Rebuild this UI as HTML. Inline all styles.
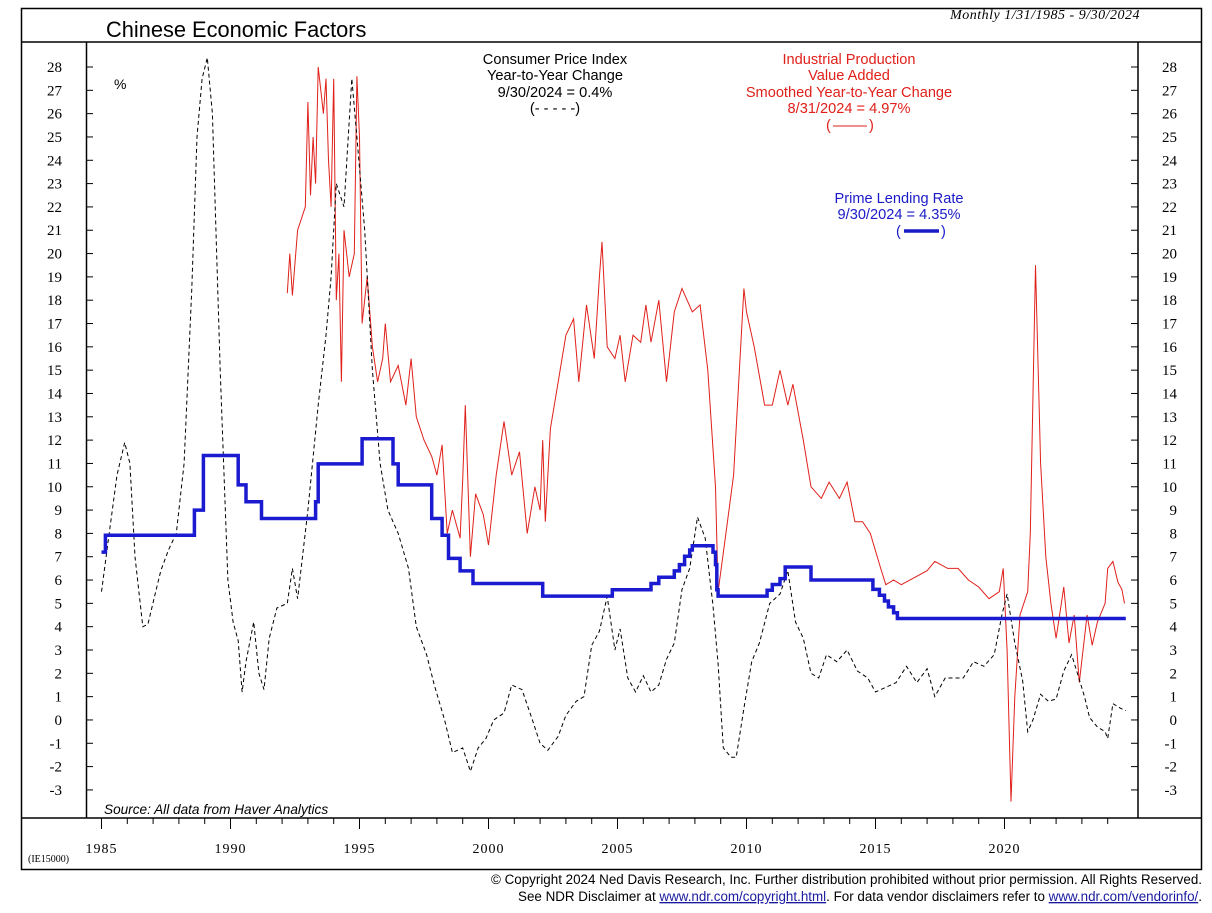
<!DOCTYPE html>
<html><head><meta charset="utf-8"><style>
body{margin:0;background:#fff;width:1212px;height:908px;overflow:hidden}
text{font-family:"Liberation Sans",sans-serif}
.s{font-family:"Liberation Serif",serif}
</style></head><body>
<svg id="c" width="1212" height="908" xmlns="http://www.w3.org/2000/svg">
<rect x="21.5" y="8.5" width="1180" height="861" fill="none" stroke="#000" stroke-width="1.5"/>
<line x1="21" y1="42" x2="1202" y2="42" stroke="#000" stroke-width="1.5"/>
<line x1="21" y1="818" x2="1202" y2="818" stroke="#000" stroke-width="1.5"/>
<line x1="86.5" y1="42" x2="86.5" y2="818" stroke="#000" stroke-width="1.5"/>
<line x1="1138" y1="42" x2="1138" y2="818" stroke="#000" stroke-width="1.5"/>
<text x="106" y="37" font-size="21.8">Chinese Economic Factors</text>
<text x="1140" y="19" font-size="14" font-style="italic" class="s" text-anchor="end" letter-spacing="0.5">Monthly 1/31/1985 - 9/30/2024</text>
<text x="114" y="89" font-size="14">%</text>
<g font-size="14.6" text-anchor="middle">
<text x="555" y="64">Consumer Price Index</text>
<text x="555" y="80">Year-to-Year Change</text>
<text x="555" y="97">9/30/2024 = 0.4%</text>
<text x="555" y="113">(- - - - -)</text>
<g fill="#e0201a">
<text x="849" y="64">Industrial Production</text>
<text x="849" y="80">Value Added</text>
<text x="849" y="97">Smoothed Year-to-Year Change</text>
<text x="849" y="113">8/31/2024 = 4.97%</text>
<text x="826" y="130" text-anchor="start">(</text><line x1="833" y1="126" x2="867" y2="126" stroke="#e0201a"/><text x="869" y="130" text-anchor="start">)</text>
</g>
<g fill="#1a1ac8">
<text x="899" y="203">Prime Lending Rate</text>
<text x="899" y="219">9/30/2024 = 4.35%</text>
<text x="896" y="236" text-anchor="start">(</text><line x1="904" y1="231" x2="939" y2="231" stroke="#1a1ac8" stroke-width="3.5"/><text x="941" y="236" text-anchor="start">)</text>
</g>
</g>
<text x="104" y="814" font-size="13.6" font-style="italic">Source: All data from Haver Analytics</text>
<text x="28" y="862" font-size="10" class="s">(IE15000)</text>
<g font-size="13.4" text-anchor="end">
<text x="1202" y="884">© Copyright 2024 Ned Davis Research, Inc.  Further distribution prohibited without prior permission.  All Rights Reserved.</text>
<text x="1202" y="901">See NDR Disclaimer at <tspan fill="#1a1aa0" text-decoration="underline">www.ndr.com/copyright.html</tspan>. For data vendor disclaimers refer to <tspan fill="#1a1aa0" text-decoration="underline">www.ndr.com/vendorinfo/</tspan>.</text>
</g>
<g id="ax"></g>
<path id="ip" fill="none" stroke="#e0201a" stroke-width="1"/>
<path id="cpi" fill="none" stroke="#000" stroke-width="1" stroke-dasharray="4,3"/>
<path id="pr" fill="none" stroke="#1a1ad0" stroke-width="3.5"/>
</svg>
<script>
const X=y=>101.5+(y-1985)*25.8, Y=v=>67+(28-v)*23.32;
let ax='';
for(let v=28;v>=-3;v--){const y=Y(v);
ax+=`<line x1="86" y1="${y}" x2="93" y2="${y}" stroke="#000"/><line x1="1131" y1="${y}" x2="1138" y2="${y}" stroke="#000"/>`;
ax+=`<text class="s" x="62" y="${y+5}" font-size="15" text-anchor="end">${v}</text><text class="s" x="1177" y="${y+5}" font-size="15" text-anchor="end">${v}</text>`;}
for(let yr=1985;yr<=2024;yr++){const x=X(yr),m=yr%5==0;
ax+=`<line x1="${x}" y1="818" x2="${x}" y2="${m?829:824}" stroke="#000"/>`;
if(m)ax+=`<text class="s" x="${x}" y="853" font-size="14" text-anchor="middle" letter-spacing="1">${yr}</text>`;}
document.getElementById('ax').innerHTML=ax;
function P(a){let s='';for(let i=0;i<a.length;i+=2)s+=(i?'L':'M')+X(a[i]).toFixed(1)+','+Y(a[i+1]).toFixed(1);return s}
function S(a){let s='';for(let i=0;i<a.length;i+=2){const x=X(a[i]).toFixed(1),y=Y(a[i+1]).toFixed(1);if(i)s+='L'+x+','+Y(a[i-1]).toFixed(1);s+=(i?'L':'M')+x+','+y;}return s}
const pr=[1985,7.2,1985.15,7.92,1988.6,9.0,1988.95,11.34,1990.3,10.08,1990.6,9.36,1991.2,8.64,1993.3,9.36,1993.4,10.98,1995.1,12.06,1996.3,10.98,1996.5,10.08,1997.8,8.64,1998.2,7.92,1998.45,6.93,1998.9,6.39,1999.4,5.85,2002.1,5.31,2004.8,5.58,2006.3,5.85,2006.6,6.12,2007.2,6.39,2007.4,6.66,2007.6,7.02,2007.8,7.29,2007.9,7.47,2008.7,7.2,2008.8,6.66,2008.85,5.58,2008.9,5.31,2010.8,5.56,2011.0,5.81,2011.3,6.06,2011.5,6.56,2012.5,6.0,2014.9,5.6,2015.15,5.35,2015.35,5.1,2015.5,4.85,2015.7,4.6,2015.85,4.35,2024.7,4.35];
const cpi=[1985,5.5,1985.3,8,1985.6,10.5,1985.9,11.9,1986.1,11,1986.3,7,1986.6,4,1986.8,4.1,1987.1,5.5,1987.3,6.4,1987.6,7.3,1987.9,8,1988.2,11,1988.5,18.5,1988.7,25,1988.9,27.5,1989.1,28.4,1989.3,26,1989.6,15,1989.9,6,1990.1,4.2,1990.3,3.4,1990.45,1.2,1990.6,2.5,1990.9,4.2,1991.1,2,1991.3,1.3,1991.5,3.5,1991.8,4.8,1992.2,5,1992.4,6.5,1992.6,5.2,1993.0,9,1993.4,13.5,1993.7,16.5,1993.9,19,1994.1,23,1994.4,22,1994.7,27.5,1994.9,25,1995.2,21,1995.5,15,1995.8,11,1996.1,9,1996.5,8,1996.9,6.5,1997.2,4,1997.6,2.8,1997.9,1.5,1998.3,0,1998.6,-1.4,1999.0,-1.2,1999.3,-2.2,1999.6,-1.2,1999.9,-0.8,2000.2,0,2000.6,0.3,2000.9,1.5,2001.3,1.3,2001.7,0,2002.0,-1,2002.3,-1.3,2002.7,-0.7,2003.0,0.2,2003.4,0.8,2003.7,1,2004.0,3.2,2004.3,3.8,2004.6,5.3,2004.9,3,2005.1,3.9,2005.4,1.8,2005.7,1.2,2006.0,1.9,2006.3,1.2,2006.6,1.5,2006.9,2.6,2007.2,3.3,2007.5,5.6,2007.8,6.5,2008.1,8.7,2008.4,7.8,2008.7,4.9,2008.9,2.4,2009.1,-1.2,2009.4,-1.6,2009.6,-1.6,2009.9,0.5,2010.2,2.5,2010.5,3.3,2010.9,5,2011.3,5.4,2011.6,6.4,2011.9,4.2,2012.2,3.5,2012.5,2.0,2012.8,1.8,2013.1,2.8,2013.5,2.5,2013.9,3,2014.3,2.1,2014.7,1.8,2015.0,1.2,2015.4,1.4,2015.8,1.6,2016.2,2.3,2016.6,1.6,2017.0,2.2,2017.3,1,2017.7,1.8,2018.0,1.8,2018.4,1.8,2018.8,2.5,2019.2,2.3,2019.6,2.8,2019.9,4.5,2020.1,5.4,2020.4,3.3,2020.7,1.7,2020.9,-0.5,2021.1,0,2021.4,1.1,2021.7,0.8,2022.0,0.9,2022.3,2.1,2022.6,2.8,2022.8,2.1,2023.1,1,2023.3,0.1,2023.6,-0.3,2023.9,-0.5,2024.0,-0.8,2024.2,0.7,2024.5,0.5,2024.7,0.4];
const ip=[1992.2,18.3,1992.3,20,1992.4,18.2,1992.6,21,1992.9,22,1993.0,26.5,1993.1,22.5,1993.2,25,1993.3,23,1993.4,28,1993.6,26,1993.7,27.5,1993.8,24,1993.9,22,1994.0,27.5,1994.1,18,1994.2,20,1994.3,14.5,1994.4,21,1994.6,19,1994.8,20,1994.9,27.6,1995.0,25,1995.1,17,1995.3,19,1995.5,16,1995.7,14.5,1995.9,15.5,1996.0,17,1996.2,14.5,1996.5,15.2,1996.8,13.5,1997.0,15.5,1997.2,13,1997.5,12,1997.8,11.3,1998.0,10.5,1998.2,11.8,1998.4,8,1998.6,9,1998.9,7.8,1999.0,10.3,1999.1,13.5,1999.3,7,1999.5,9.7,1999.8,8.8,2000.0,7.5,2000.3,10.5,2000.6,12.8,2000.9,10.5,2001.2,11.5,2001.5,8,2001.8,10,2002.0,9,2002.1,12,2002.2,8.5,2002.4,12.5,2002.7,14.5,2003.0,16.5,2003.3,17.2,2003.5,14.5,2003.8,17.8,2004.1,15.5,2004.3,19,2004.4,20.5,2004.6,16,2004.9,15.5,2005.1,16.5,2005.3,14.5,2005.6,16.5,2005.9,16.2,2006.1,17.8,2006.3,16.2,2006.6,18,2006.9,14.5,2007.2,17.5,2007.5,18.5,2007.9,17.5,2008.2,17.8,2008.5,15,2008.8,10,2008.9,5.5,2009.2,8,2009.5,10.5,2009.9,18.5,2010.0,17.5,2010.3,16,2010.7,13.5,2011.0,13.5,2011.3,15,2011.6,13.5,2011.8,14.4,2012.2,12,2012.5,10,2012.9,9.5,2013.2,10.2,2013.6,9.5,2013.9,10.2,2014.2,8.5,2014.5,8.5,2014.8,8,2015.2,6.5,2015.4,5.8,2015.7,6,2016.0,5.8,2016.5,6.1,2017.0,6.4,2017.3,6.8,2017.8,6.5,2018.2,6.5,2018.6,6,2019.0,5.7,2019.4,5.2,2019.8,5.5,2019.95,6.5,2020.1,3,2020.25,-3.5,2020.4,1,2020.6,4.5,2020.9,5.5,2021.0,8,2021.2,19.5,2021.4,11,2021.6,7,2021.8,5,2022.0,3.5,2022.3,5.7,2022.5,3.3,2022.7,4.5,2022.9,1.6,2023.2,4.5,2023.4,3.2,2023.6,4.2,2023.9,5,2024.0,6.5,2024.2,6.8,2024.4,5.9,2024.55,5.6,2024.65,5];
document.getElementById('pr').setAttribute('d',S(pr));
document.getElementById('cpi').setAttribute('d',P(cpi));
document.getElementById('ip').setAttribute('d',P(ip));
</script>
</body></html>
